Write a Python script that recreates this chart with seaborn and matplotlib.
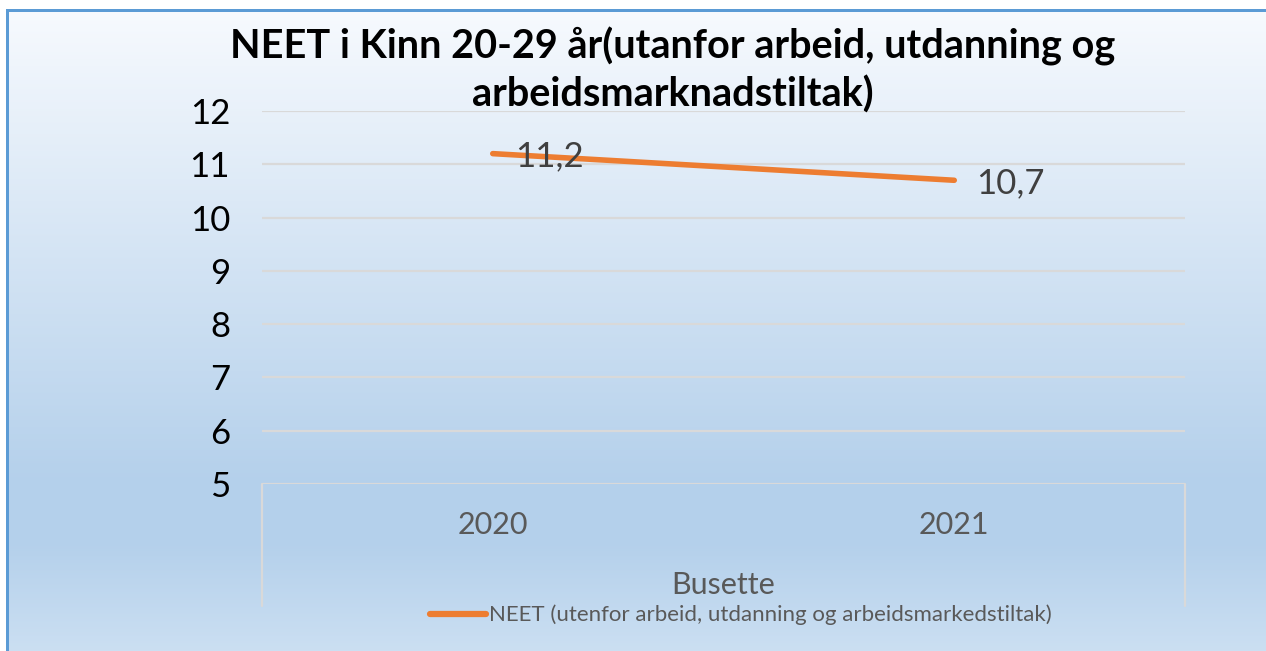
import numpy as np
import pandas as pd
import matplotlib
matplotlib.use("Agg")
import matplotlib.pyplot as plt
import matplotlib.transforms as mtransforms
import seaborn as sns

# ---- data ----
years = ["2020", "2021"]
values = [11.2, 10.7]
value_labels = ["11,2", "10,7"]
y_ticks = [5, 6, 7, 8, 9, 10, 11, 12]
series_name = "NEET (utenfor arbeid, utdanning og arbeidsmarkedstiltak)"
group_label = "Busette"
title = "NEET i Kinn 20-29 år(utanfor arbeid, utdanning og\narbeidsmarknadstiltak)"

sns.set_theme(style="white")
plt.rcParams["font.family"] = ["Lato", "DejaVu Sans"]

W, H = 1266, 651
fig = plt.figure(figsize=(W / 100, H / 100), dpi=100)

# background: vertical gradient, white margin top/left, blue border top/left
stops = [0.0, 0.74, 0.83, 1.0]
cols = np.array([[247, 250, 254], [180, 208, 235], [180, 208, 235], [203, 223, 242]]) / 255.0
top_px, left_px = 9, 6
t = np.linspace(0, 1, H - top_px)
grad = np.stack([np.interp(t, stops, cols[:, i]) for i in range(3)], axis=-1)
img = np.ones((H, W, 3))
img[top_px:, :, :] = grad[:, None, :]
img[:, :left_px, :] = 1.0
border = np.array([91, 155, 213]) / 255.0
img[top_px:top_px + 3, left_px:, :] = border
img[top_px:, left_px:left_px + 3, :] = border
fig.figimage(img, xo=0, yo=0, origin="upper", zorder=-10)

# main axes
x0, x1, ytop, ybot = 262, 1185, 111, 484
ax = fig.add_axes([x0 / W, 1 - ybot / H, (x1 - x0) / W, (ybot - ytop) / H])
ax.set_facecolor("none")

df = pd.DataFrame({"year": years, "value": values, "series": series_name})
sns.lineplot(data=df, x="year", y="value", color="#ED7D31", linewidth=4,
             solid_capstyle="round", ax=ax, legend=False, sort=False)

ax.set_xlim(-0.5, 1.5)
ax.set_ylim(5, 12)
ax.set_yticks(y_ticks)
ax.set_yticklabels([str(v) for v in y_ticks], fontsize=25, color="black")
ax.tick_params(axis="y", length=0, pad=23)
ax.set_xticks([])
ax.set_xlabel("")
ax.set_ylabel("")
for s in ax.spines.values():
    s.set_visible(False)
ax.yaxis.grid(True, color="#D9D9D9", linewidth=1.6)
ax.set_axisbelow(True)

axh = ybot - ytop
trans = mtransforms.blended_transform_factory(ax.transData, ax.transAxes)
# category labels
for i, yr in enumerate(years):
    ax.text(i, -(525 - ybot) / axh, yr, transform=trans, ha="center", va="center",
            fontsize=22, color="#595959")
ax.text(0.5, -(585 - ybot) / axh, group_label, transform=trans, ha="center", va="center",
        fontsize=22, color="#595959")
# bracket lines of the category axis
for xe in (-0.5, 1.5):
    ax.plot([xe, xe], [0, -(606 - ybot) / axh], transform=trans, color="#D9D9D9",
            lw=1.6, clip_on=False)

# data labels
for i, (v, lab) in enumerate(zip(values, value_labels)):
    ax.annotate(lab, (i, v), xytext=(22, -3), textcoords="offset pixels",
                ha="left", va="center", fontsize=25, color="#404040")

# legend
handle = plt.Line2D([], [], color="#ED7D31", lw=4.5, solid_capstyle="round")
fig.legend([handle], [series_name], loc="center", bbox_to_anchor=(741 / W, 1 - 615 / H),
           frameon=False, fontsize=16, handlelength=2.5, handletextpad=0.15,
           labelcolor="#595959")

# title
fig.text(673 / W, 1 - 70 / H, title, ha="center", va="center", fontsize=28.5,
         fontweight="bold", color="black", linespacing=1.3)

fig.savefig("out.png", dpi=100)
